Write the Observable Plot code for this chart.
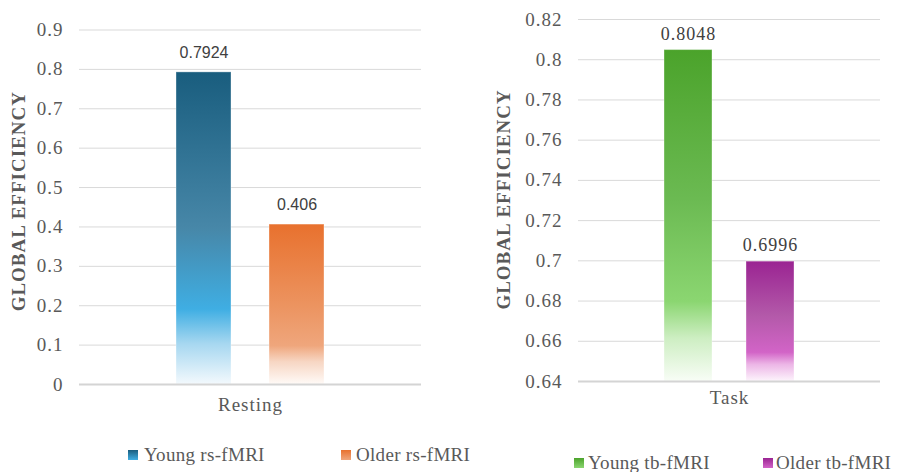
<!DOCTYPE html>
<html>
<head>
<meta charset="utf-8">
<script src="https://cdn.jsdelivr.net/npm/d3@7"></script>
<script src="https://cdn.jsdelivr.net/npm/@observablehq/plot@0.6"></script>
<style>
  body { margin: 0; background: #fff; }
  #wrap { position: relative; width: 900px; height: 472px; background: #fff; overflow: hidden; }
  #wrap svg text { letter-spacing: 1px; }
  #wrap svg g[font-family="Liberation Sans"] text { letter-spacing: 0; }
  .panel { position: absolute; top: 0; }
  .leg { position: absolute; font-family: "Liberation Serif", serif; font-size: 19px; color: #595959; letter-spacing: 0.3px; line-height: 19px; white-space: nowrap; }
  .sw { position: absolute; width: 10px; height: 10px; }
</style>
</head>
<body>
<div id="wrap"></div>
<script>
// ---- data ----
const categoriesL = ["Resting"];
const seriesL = ["Young rs-fMRI", "Older rs-fMRI"];
const valuesL = [0.7924, 0.406];
const ticksL = [0, 0.1, 0.2, 0.3, 0.4, 0.5, 0.6, 0.7, 0.8, 0.9];

const categoriesR = ["Task"];
const seriesR = ["Young tb-fMRI", "Older tb-fMRI"];
const valuesR = [0.8048, 0.6996];
const ticksR = [0.64, 0.66, 0.68, 0.7, 0.72, 0.74, 0.76, 0.78, 0.8, 0.82];

const yTitle = "GLOBAL EFFICIENCY";

const dataL = seriesL.map((s, i) => ({category: categoriesL[0], series: s, value: valuesL[i]}));
const dataR = seriesR.map((s, i) => ({category: categoriesR[0], series: s, value: valuesR[i]}));

// ---- gradients (style) ----
const gradients = {
  gYR: [[0, "#195d7e"], [0.5, "#4787a8"], [0.76, "#3faee3"], [0.87, "#a6d7f0"], [1, "#f3f9fd"]],
  gOR: [[0, "#e8712e"], [0.5, "#ec935f"], [0.76, "#efa67c"], [0.86, "#f7d6c3"], [1, "#fffaf7"]],
  gYT: [[0, "#4ba32b"], [0.45, "#6bba52"], [0.76, "#8bd671"], [0.87, "#cdeec2"], [1, "#f8fdf6"]],
  gOT: [[0, "#9a2492"], [0.45, "#b359a9"], [0.76, "#d264c7"], [0.86, "#ecb5e6"], [1, "#fdf4fc"]]
};

function addDefs(svg, ids) {
  const defs = d3.select(svg).insert("defs", ":first-child");
  ids.forEach(id => {
    const lg = defs.append("linearGradient").attr("id", id)
      .attr("x1", 0).attr("y1", 0).attr("x2", 0).attr("y2", 1);
    gradients[id].forEach(([o, c]) => lg.append("stop").attr("offset", o).attr("stop-color", c));
  });
}

const serif = "Liberation Serif";
const tickColor = "#595959";

function panel({data, categories, series, ticks, domain, fills, mt, mb, ml, mr, valueFont, valueSize, valueDy, catDy, titleDx, titleDy}) {
  return Plot.plot({
    width: 450,
    height: 440,
    marginTop: mt,
    marginBottom: mb,
    marginLeft: ml,
    marginRight: mr,
    style: {fontFamily: serif, background: "white", overflow: "visible"},
    x: {domain: series, paddingInner: 0.41, paddingOuter: 1.04, axis: null},
    y: {domain, axis: null},
    color: {domain: series, range: fills},
    marks: [
      Plot.gridY(ticks, {stroke: "#d9d9d9", strokeOpacity: 1, strokeWidth: 1}),
      Plot.axisY(ticks, {label: null, tickSize: 0, tickPadding: 16, fontSize: 19, fill: tickColor, tickFormat: d => String(d)}),
      Plot.barY(data, {x: "series", y1: domain[0], y2: "value", fill: "series", stroke: "#ffffff", strokeOpacity: 0.35, strokeWidth: 1}),
      Plot.ruleY([domain[0]], {stroke: "#d4d4d4", strokeWidth: 2}),
      Plot.text(data, {x: "series", y: "value", text: d => String(d.value), dy: valueDy, fontFamily: valueFont, fontSize: valueSize, fill: "#404040"}),
      Plot.text(categories, {frameAnchor: "bottom", dy: catDy, fontSize: 19, fill: tickColor}),
      Plot.text([yTitle], {frameAnchor: "left", textAnchor: "middle", rotate: -90, dx: titleDx, dy: titleDy, fontSize: 19, fontWeight: "bold", fill: tickColor})
    ]
  });
}

const wrap = document.getElementById("wrap");

const left = panel({
  data: dataL, categories: categoriesL, series: seriesL, ticks: ticksL, domain: [0, 0.9],
  fills: ["url(#gYR)", "url(#gOR)"], mt: 29.5, mb: 56, ml: 79, mr: 29,
  valueFont: "Liberation Sans", valueSize: 16, valueDy: -20, catDy: 26, titleDx: -61, titleDy: -6
});
addDefs(left, ["gYR", "gOR"]);
left.classList.add("panel");
left.style.left = "0px";
wrap.appendChild(left);

const right = panel({
  data: dataR, categories: categoriesR, series: seriesR, ticks: ticksR, domain: [0.64, 0.82],
  fills: ["url(#gYT)", "url(#gOT)"], mt: 19, mb: 59, ml: 128, mr: 20,
  valueFont: serif, valueSize: 18, valueDy: -16, catDy: 22, titleDx: -75, titleDy: -1
});
addDefs(right, ["gYT", "gOT"]);
right.classList.add("panel");
right.style.left = "450px";
wrap.appendChild(right);

// ---- legends (HTML, below the plots) ----
function legendItem(label, gid, sx, sy, tx, ty) {
  const sw = document.createElement("div");
  sw.className = "sw";
  const st = gradients[gid];
  sw.style.left = sx + "px"; sw.style.top = sy + "px";
  sw.style.background = `linear-gradient(${st[0][1]}, ${st[2][1]})`;
  wrap.appendChild(sw);
  const t = document.createElement("div");
  t.className = "leg";
  t.textContent = label;
  t.style.left = tx + "px"; t.style.top = ty + "px";
  wrap.appendChild(t);
}
legendItem(seriesL[0], "gYR", 128, 450, 144, 445);
legendItem(seriesL[1], "gOR", 341, 450, 356, 445);
legendItem(seriesR[0], "gYT", 574, 458, 588, 453);
legendItem(seriesR[1], "gOT", 763, 458, 776, 453);
</script>
</body>
</html>
